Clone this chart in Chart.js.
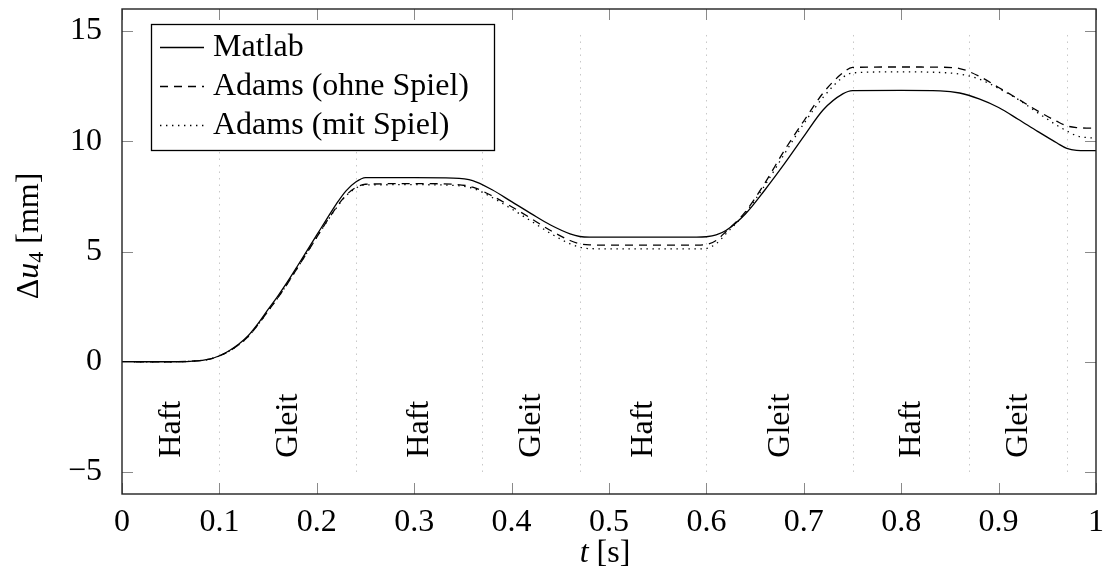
<!DOCTYPE html>
<html>
<head>
<meta charset="utf-8">
<script src="https://cdn.jsdelivr.net/npm/chart.js@4.4.1/dist/chart.umd.min.js"></script>
<style>
  html, body { margin: 0; padding: 0; background: #fff; }
</style>
</head>
<body>
<canvas id="chart" width="1106" height="578"></canvas>
<script>
// time samples [s]
const t = [0, 0.05, 0.07, 0.09, 0.10, 0.11, 0.12, 0.13, 0.14, 0.15, 0.16, 0.17, 0.18, 0.19, 0.20,
  0.21, 0.22, 0.23, 0.24, 0.25, 0.30, 0.34, 0.36, 0.38, 0.40, 0.42, 0.44, 0.46, 0.47, 0.48, 0.50,
  0.59, 0.60, 0.61, 0.62, 0.64, 0.66, 0.68, 0.70, 0.72, 0.74, 0.75, 0.80, 0.84, 0.86, 0.88, 0.90,
  0.92, 0.94, 0.96, 0.97, 0.98, 0.99, 1.00];

// delta u4 [mm]
const matlab = [0, 0, 0.02, 0.12, 0.27, 0.5, 0.8, 1.2, 1.75, 2.37, 2.98, 3.63, 4.33, 5.04, 5.75,
  6.46, 7.15, 7.75, 8.15, 8.35, 8.35, 8.33, 8.22, 7.8, 7.26, 6.72, 6.2, 5.8, 5.68, 5.65, 5.65,
  5.65, 5.67, 5.75, 5.95, 6.7, 7.79, 8.97, 10.22, 11.43, 12.15, 12.3, 12.31, 12.29, 12.19, 11.92, 11.53,
  11.0, 10.45, 9.92, 9.68, 9.59, 9.58, 9.58];

const adamsOhne = [0, 0, 0.02, 0.12, 0.26, 0.48, 0.77, 1.16, 1.7, 2.3, 2.9, 3.55, 4.25, 4.95, 5.65,
  6.35, 7.0, 7.55, 7.9, 8.05, 8.08, 8.05, 7.92, 7.52, 7.03, 6.5, 5.95, 5.5, 5.35, 5.3, 5.29,
  5.29, 5.32, 5.5, 5.9, 6.8, 8.1, 9.58, 10.92, 12.2, 13.1, 13.35, 13.37, 13.36, 13.3, 12.95, 12.44,
  11.92, 11.38, 10.9, 10.7, 10.62, 10.6, 10.6];

const adamsMit = [0, 0, 0.02, 0.12, 0.26, 0.48, 0.77, 1.16, 1.7, 2.3, 2.9, 3.55, 4.25, 4.95, 5.65,
  6.33, 6.97, 7.52, 7.87, 8.02, 8.03, 8.0, 7.87, 7.45, 6.93, 6.38, 5.82, 5.35, 5.2, 5.13, 5.12,
  5.12, 5.14, 5.35, 5.8, 6.75, 8.0, 9.42, 10.8, 12.0, 12.9, 13.1, 13.15, 13.12, 13.05, 12.82, 12.4,
  11.9, 11.3, 10.72, 10.47, 10.25, 10.17, 10.15];

const xTicks = [0, 0.1, 0.2, 0.3, 0.4, 0.5, 0.6, 0.7, 0.8, 0.9, 1];
const yTicks = [-5, 0, 5, 10, 15];

// Haft/Gleit phases
const phaseBounds = [0, 0.1, 0.24, 0.37, 0.47, 0.6, 0.75, 0.87, 0.97];
const phaseNames = ['Haft', 'Gleit', 'Haft', 'Gleit', 'Haft', 'Gleit', 'Haft', 'Gleit'];
const phaseLabelY = -4.35;

const serif = "'Liberation Serif', 'Times New Roman', serif";
const FS = 32;

function pts(arr) {
  return t.map((x, i) => ({ x: x, y: arr[i] }));
}

const decor = {
  id: 'decor',
  beforeDatasetsDraw(chart) {
    const { ctx, scales: { x, y } } = chart;
    ctx.save();
    // dotted phase lines
    ctx.strokeStyle = '#c8c8c8';
    ctx.lineWidth = 1;
    ctx.setLineDash([1.5, 5]);
    const yA = y.getPixelForValue(-5), yB = y.getPixelForValue(15);
    phaseBounds.slice(1).forEach(v => {
      const px = Math.round(x.getPixelForValue(v)) + 0.5;
      ctx.beginPath();
      ctx.moveTo(px, yA);
      ctx.lineTo(px, yB);
      ctx.stroke();
    });
    ctx.setLineDash([]);
    // phase names
    ctx.fillStyle = '#000';
    ctx.font = FS + 'px ' + serif;
    ctx.textAlign = 'left';
    ctx.textBaseline = 'middle';
    phaseNames.forEach((name, i) => {
      const px = x.getPixelForValue((phaseBounds[i] + phaseBounds[i + 1]) / 2);
      const py = y.getPixelForValue(phaseLabelY);
      ctx.save();
      ctx.translate(px + 1, py);
      ctx.rotate(-Math.PI / 2);
      ctx.fillText(name, 0, 0);
      ctx.restore();
    });
    ctx.restore();
  },
  afterDatasetsDraw(chart) {
    const { ctx, chartArea: a, scales: { x, y } } = chart;
    ctx.save();
    // tick marks inside, on all four sides
    ctx.strokeStyle = '#8a8a8a';
    ctx.lineWidth = 1;
    xTicks.forEach(v => {
      const px = Math.round(x.getPixelForValue(v)) + 0.5;
      ctx.beginPath();
      ctx.moveTo(px, a.bottom); ctx.lineTo(px, a.bottom - 11);
      ctx.moveTo(px, a.top); ctx.lineTo(px, a.top + 11);
      ctx.stroke();
    });
    yTicks.forEach(v => {
      const py = Math.round(y.getPixelForValue(v)) + 0.5;
      ctx.beginPath();
      ctx.moveTo(a.left, py); ctx.lineTo(a.left + 11, py);
      ctx.moveTo(a.right, py); ctx.lineTo(a.right - 11, py);
      ctx.stroke();
    });
    // frame
    ctx.strokeStyle = '#222';
    ctx.lineWidth = 1.4;
    ctx.strokeRect(a.left, a.top, a.right - a.left, a.bottom - a.top);

    // legend
    const lx = 151, ly = 24, lw = 343, lh = 126;
    ctx.fillStyle = '#fff';
    ctx.fillRect(lx, ly, lw, lh);
    ctx.strokeStyle = '#000';
    ctx.lineWidth = 1.3;
    ctx.strokeRect(lx + 0.5, ly + 0.5, lw, lh);
    ctx.font = FS + 'px ' + serif;
    ctx.textAlign = 'left';
    ctx.textBaseline = 'middle';
    ctx.fillStyle = '#000';
    chart.data.datasets.forEach((ds, i) => {
      const yy = 47.5 + i * 39;
      ctx.strokeStyle = '#000';
      ctx.lineWidth = ds.borderWidth;
      ctx.setLineDash(ds.borderDash || []);
      ctx.beginPath();
      ctx.moveTo(160, yy); ctx.lineTo(204, yy);
      ctx.stroke();
      ctx.setLineDash([]);
      ctx.fillText(ds.label, 213, yy);
    });
    ctx.restore();
  },
  afterDraw(chart) {
    const { ctx } = chart;
    ctx.save();
    ctx.fillStyle = '#000';
    ctx.textBaseline = 'middle';
    ctx.textAlign = 'left';
    const normal = FS + 'px ' + serif;
    const italic = 'italic ' + FS + 'px ' + serif;
    const small = '22px ' + serif;
    // x axis title
    drawParts(ctx, [['t', italic, 0], [' [s]', normal, 0]], 605, 554);
    // y axis title
    ctx.save();
    ctx.translate(30, 236);
    ctx.rotate(-Math.PI / 2);
    drawParts(ctx, [['\u0394', normal, 0], ['u', italic, 0], ['4', small, 7], [' [mm]', normal, 0]], 0, 0);
    ctx.restore();
    ctx.restore();
  }
};

function drawParts(ctx, parts, cx, cy) {
  let w = 0;
  parts.forEach(p => { ctx.font = p[1]; w += ctx.measureText(p[0]).width; });
  let xx = cx - w / 2;
  parts.forEach(p => {
    ctx.font = p[1];
    ctx.fillText(p[0], xx, cy + p[2]);
    xx += ctx.measureText(p[0]).width;
  });
}

Chart.defaults.font.family = serif;
Chart.defaults.font.size = FS;
Chart.defaults.color = '#000';

new Chart(document.getElementById('chart'), {
  type: 'line',
  data: {
    datasets: [
      { label: 'Matlab', data: pts(matlab), borderColor: '#000', borderWidth: 1.3 },
      { label: 'Adams (ohne Spiel)', data: pts(adamsOhne), borderColor: '#000', borderWidth: 1.3, borderDash: [8, 6] },
      { label: 'Adams (mit Spiel)', data: pts(adamsMit), borderColor: '#000', borderWidth: 1.3, borderDash: [1.4, 4.6] }
    ]
  },
  options: {
    responsive: false,
    animation: false,
    devicePixelRatio: 1,
    layout: { padding: { top: 9, right: 10, left: 0, bottom: 0 } },
    elements: {
      point: { radius: 0 },
      line: { cubicInterpolationMode: 'monotone', fill: false }
    },
    plugins: {
      legend: { display: false },
      tooltip: { enabled: false }
    },
    scales: {
      x: {
        type: 'linear',
        min: 0, max: 1,
        grid: { display: false },
        border: { display: false },
        afterBuildTicks: s => { s.ticks = xTicks.map(v => ({ value: v })); },
        afterFit: s => { s.height = 84; s.paddingLeft = 0; s.paddingRight = 0; },
        ticks: {
          padding: 1,
          maxRotation: 0,
          autoSkip: false,
          callback: v => String(Math.round(v * 10) / 10)
        }
      },
      y: {
        type: 'linear',
        min: -6, max: 16,
        grid: { display: false },
        border: { display: false },
        afterBuildTicks: s => { s.ticks = yTicks.map(v => ({ value: v })); },
        afterFit: s => { s.width = 122; s.paddingTop = 0; s.paddingBottom = 0; },
        ticks: {
          padding: 12,
          autoSkip: false,
          callback: v => (v < 0 ? '\u2212' + Math.abs(v) : String(v))
        }
      }
    }
  },
  plugins: [decor]
});
</script>
</body>
</html>
